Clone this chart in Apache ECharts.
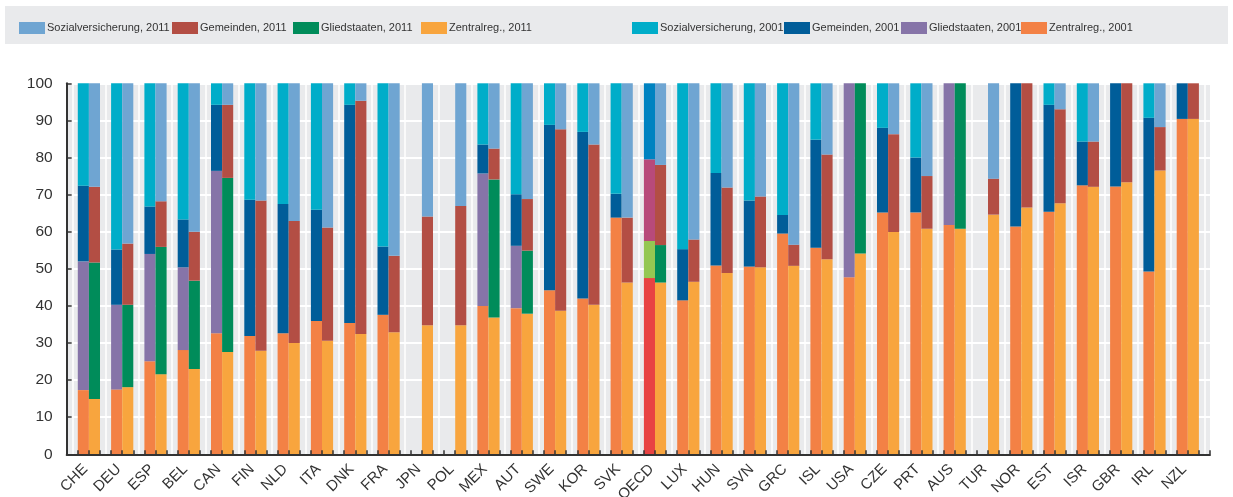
<!DOCTYPE html>
<html>
<head>
<meta charset="utf-8">
<script src="https://cdn.jsdelivr.net/npm/echarts@6/dist/echarts.min.js"></script>
<style>html,body{margin:0;padding:0;background:#fff;}#c{width:1233px;height:497px;}</style>
</head>
<body>
<div id="c"></div>
<script>
// ---- data ----
var countries = ['CHE','DEU','ESP','BEL','CAN','FIN','NLD','ITA','DNK','FRA','JPN','POL','MEX','AUT','SWE','KOR','SVK','OECD','LUX','HUN','SVN','GRC','ISL','USA','CZE','PRT','AUS','TUR','NOR','EST','ISR','GBR','IRL','NZL'];
var yTicks = [0,10,20,30,40,50,60,70,80,90,100];

// 2001 shares (%)
var zentral2001 = [17.3,17.5,25.1,28.1,32.6,31.9,32.6,35.9,35.4,37.6,null,null,40.0,39.4,44.2,42.0,63.8,47.5,41.5,50.9,50.6,59.5,55.7,47.7,65.2,65.2,61.8,null,61.4,65.4,72.5,72.2,49.3,90.4];
var glied2001   = [34.7,22.8,28.9,22.3,43.8,null,null,null,null,null,null,null,35.7,16.8,null,null,null,10.0,null,null,null,null,null,52.3,null,null,38.2,null,null,null,null,null,null,null];
var gemeinden2001 = [20.4,14.9,12.8,12.9,17.8,36.7,34.9,30.0,58.8,18.4,null,null,7.8,13.9,44.6,44.9,6.4,22.0,13.8,24.9,17.8,5.0,29.1,null,22.8,14.8,null,null,38.6,28.8,11.8,27.8,41.4,9.6];
var sozial2001  = [27.6,44.8,33.2,36.7,5.8,31.4,32.5,34.1,5.8,44.0,null,null,16.5,29.9,11.2,13.1,29.8,20.5,44.7,24.2,31.6,35.5,15.2,null,12.0,20.0,null,null,null,5.8,15.7,null,9.3,null];

// 2011 shares (%)
var zentral2011 = [14.9,18.1,21.6,23.0,27.6,27.9,30.0,30.6,32.4,32.9,34.8,34.8,36.9,37.9,38.7,40.3,46.3,46.3,46.5,48.9,50.4,50.8,52.6,54.1,59.9,60.8,60.8,64.6,66.5,67.7,72.1,73.3,76.5,90.4];
var glied2011   = [36.8,22.2,34.3,23.8,46.9,null,null,null,null,null,null,null,37.2,17.0,null,null,null,10.1,null,null,null,null,null,45.9,null,null,39.2,null,null,null,null,null,null,null];
var gemeinden2011 = [20.4,16.5,12.3,13.2,19.7,40.5,32.9,30.5,62.9,20.6,29.3,32.1,8.3,13.9,48.9,43.2,17.5,21.6,11.4,23.0,19.1,5.7,28.2,null,26.4,14.2,null,9.7,33.5,25.3,12.2,26.7,11.7,9.6];
var sozial2011  = [27.9,43.2,31.8,40.0,5.8,31.6,37.1,38.9,4.7,46.5,35.9,33.1,17.6,31.2,12.4,16.5,36.2,22.0,42.1,28.1,30.5,43.5,19.2,null,13.7,25.0,null,25.7,null,7.0,15.7,null,11.8,null];

// ---- style ----
var FONT = "'Liberation Sans',Arial,Helvetica,sans-serif";
var TXT = '#333333';
var BG = '#e9eaec';
var highlightCountry = 'OECD';
var oecdColors = {z:'#e84343', g:'#94c752', gem:'#b84a7a', s:'#0083c1'};

function withHighlight(arr, color) {
  return arr.map(function (v, i) {
    if (countries[i] === highlightCountry && v != null) return {value: v, itemStyle: {color: color}};
    return v;
  });
}

var slotCount = countries.length * 3 + 1;
var slots = [];
for (var i = 0; i < slotCount; i++) slots.push('');

var axisL = 66.7, axisR = 1210, plotTop = 83.3, plotBottom = 454.3;
var slotW = (axisR - axisL) / slotCount;
var barW = slotW;

function mk(name, stack, data, color) {
  return {
    name: name, type: 'bar', stack: stack, xAxisIndex: 1, yAxisIndex: 1,
    barWidth: barW, barGap: '0%', data: data,
    itemStyle: {color: color}, emphasis: {disabled: true}
  };
}

var series = [
  mk('Zentralreg., 2001', 'y2001', withHighlight(zentral2001, oecdColors.z), '#f38145'),
  mk('Gliedstaaten, 2001', 'y2001', withHighlight(glied2001, oecdColors.g), '#8674a8'),
  mk('Gemeinden, 2001', 'y2001', withHighlight(gemeinden2001, oecdColors.gem), '#005d99'),
  mk('Sozialversicherung, 2001', 'y2001', withHighlight(sozial2001, oecdColors.s), '#00adc9'),
  mk('Zentralreg., 2011', 'y2011', zentral2011, '#f8a53e'),
  mk('Gliedstaaten, 2011', 'y2011', glied2011, '#008c5a'),
  mk('Gemeinden, 2011', 'y2011', gemeinden2011, '#b34e44'),
  mk('Sozialversicherung, 2011', 'y2011', sozial2011, '#6fa5d2')
];

var legendOrder = ['Sozialversicherung, 2011','Gemeinden, 2011','Gliedstaaten, 2011','Zentralreg., 2011','Sozialversicherung, 2001','Gemeinden, 2001','Gliedstaaten, 2001','Zentralreg., 2001'];
var legendLeft = [14,167,288,416,627,779,896,1016];
var legends = legendOrder.map(function (n, i) {
  return {
    left: legendLeft[i], top: 17, data: [n], icon: 'rect', itemWidth: 26, itemHeight: 12,
    selectedMode: false,
    textStyle: {fontFamily: FONT, fontSize: 11, color: TXT, padding: [0,0,0,-3]}
  };
});

var chart = echarts.init(document.getElementById('c'), null, {renderer: 'canvas'});
chart.setOption({
  animation: false,
  backgroundColor: '#ffffff',
  graphic: [{type: 'rect', left: 5, top: 6, z: -10, shape: {width: 1223, height: 38}, style: {fill: BG}}],
  legend: legends,
  grid: [
    {left: axisL, right: 1233 - axisR, top: plotTop, bottom: 497 - plotBottom, show: true, backgroundColor: BG, borderWidth: 0, containLabel: false, outerBoundsMode: 'none'},
    {left: axisL + slotW / 2, right: 1233 - axisR + slotW / 2, top: plotTop, bottom: 497 - plotBottom, containLabel: false, outerBoundsMode: 'none'}
  ],
  xAxis: [
    {gridIndex: 0, type: 'category', data: slots, boundaryGap: true, z: 5,
     axisLine: {lineStyle: {color: TXT, width: 2}},
     axisTick: {show: true, inside: true, length: 4, interval: 0, lineStyle: {color: TXT, width: 1.5}},
     axisLabel: {show: false}, splitLine: {show: false}},
    {gridIndex: 1, type: 'category', data: countries, boundaryGap: true,
     axisLine: {show: false}, axisTick: {show: false},
     axisLabel: {interval: 0, rotate: 45, margin: 9, padding: [0, 5, 0, 0], fontFamily: FONT, fontSize: 15, color: TXT},
     splitLine: {show: true, interval: 0, lineStyle: {color: '#ffffff', width: 1.5}}}
  ],
  yAxis: [
    {gridIndex: 0, type: 'value', min: 0, max: 100, interval: 10,
     axisLine: {show: true, lineStyle: {color: TXT, width: 2}},
     axisTick: {show: true, inside: true, length: 5, lineStyle: {color: TXT, width: 1.5}},
     axisLabel: {fontFamily: FONT, fontSize: 15.5, color: TXT, margin: 14,
       formatter: function (v) { return yTicks.indexOf(v) >= 0 ? String(v) : ''; }},
     splitLine: {show: true, lineStyle: {color: '#ffffff', width: 2}}},
    {gridIndex: 1, type: 'value', min: 0, max: 100, show: false, splitLine: {show: false}}
  ],
  series: series
});
</script>
</body>
</html>
